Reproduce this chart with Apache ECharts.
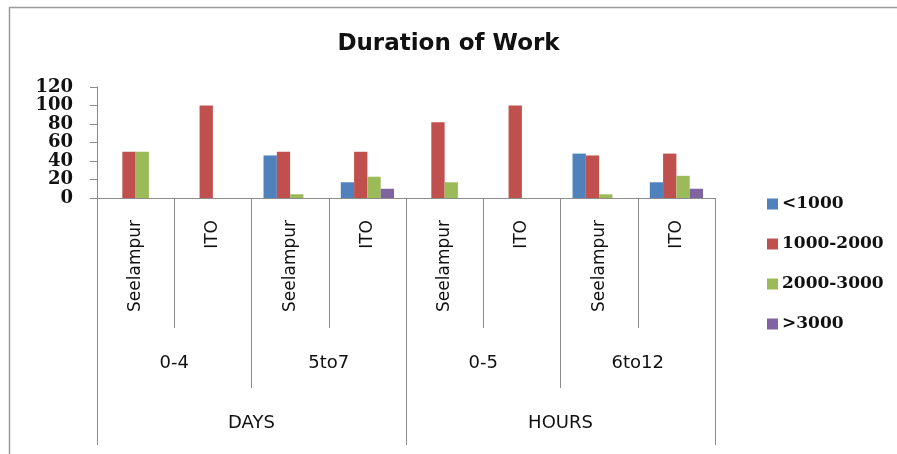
<!DOCTYPE html>
<html>
<head>
<meta charset="utf-8">
<script src="https://cdn.jsdelivr.net/npm/echarts@6/dist/echarts.min.js"></script>
<style>
  html, body { margin: 0; padding: 0; background: #fff; }
  #chart { width: 897px; height: 454px; }
</style>
</head>
<body>
<div id="chart"></div>
<script>
// x axis, three levels
const sites = ['Seelampur', 'ITO', 'Seelampur', 'ITO', 'Seelampur', 'ITO', 'Seelampur', 'ITO'];
const ranges = ['0-4', '5to7', '0-5', '6to12'];
const units = ['DAYS', 'HOURS'];

// series values (one per site column)
const below1000 = [0, 0, 46, 17, 0, 0, 48, 17];
const from1000to2000 = [50, 100, 50, 50, 82, 100, 46, 48];
const from2000to3000 = [50, 0, 4, 23, 17, 0, 4, 24];
const above3000 = [0, 0, 0, 10, 0, 0, 0, 10];

const seriesNames = ['<1000', '1000-2000', '2000-3000', '>3000'];
const colors = ['#4f81bd', '#c0504d', '#9bbb59', '#8064a2'];

const chart = echarts.init(document.getElementById('chart'));

const lineColor = '#8c8c8c';
const labelFont = 'DejaVu Sans';
const numFont = 'DejaVu Serif';

const makeBar = (name, data, i) => ({
  name: name,
  type: 'bar',
  xAxisIndex: 0,
  data: data,
  barWidth: 13.3,
  barGap: '0%',
  itemStyle: { color: colors[i] }
});

const option = {
  animation: false,
  title: {
    text: 'Duration of Work',
    left: 'center',
    top: 28,
    textStyle: {
      fontFamily: labelFont,
      fontWeight: 'bold',
      fontSize: 23,
      color: '#111'
    }
  },
  legend: {
    orient: 'vertical',
    left: 762,
    top: 189,
    itemWidth: 11,
    itemHeight: 11,
    itemGap: 20,
    icon: 'rect',
    textStyle: {
      fontFamily: numFont,
      fontWeight: 'bold',
      fontSize: 17,
      color: '#111',
      lineHeight: 20,
      padding: [0, 0, 0, -1]
    },
    data: seriesNames
  },
  grid: {
    left: 97,
    right: 182,
    top: 87,
    bottom: 256
  },
  xAxis: [
    {
      type: 'category',
      data: sites,
      position: 'bottom',
      axisLine: { show: true, lineStyle: { color: lineColor, width: 1 } },
      axisTick: { show: true, interval: 0, length: 130, lineStyle: { color: lineColor } },
      axisLabel: {
        interval: 0,
        rotate: 90,
        margin: 22,
        fontFamily: labelFont,
        fontSize: 17,
        color: '#111'
      }
    },
    {
      type: 'category',
      data: ranges,
      position: 'bottom',
      axisLine: { show: false },
      axisTick: { show: true, interval: 0, length: 190, lineStyle: { color: lineColor } },
      axisLabel: {
        interval: 0,
        margin: 156,
        fontFamily: labelFont,
        fontSize: 18,
        color: '#111'
      }
    },
    {
      type: 'category',
      data: units,
      position: 'bottom',
      axisLine: { show: false },
      axisTick: { show: true, interval: 0, length: 247, lineStyle: { color: lineColor } },
      axisLabel: {
        interval: 0,
        margin: 216,
        fontFamily: labelFont,
        fontSize: 18,
        color: '#111'
      }
    }
  ],
  yAxis: {
    type: 'value',
    min: 0,
    max: 120,
    interval: 20,
    axisLine: { show: true, lineStyle: { color: lineColor } },
    axisTick: { show: true, length: 7, lineStyle: { color: lineColor } },
    splitLine: { show: false },
    axisLabel: {
      margin: 24,
      fontFamily: numFont,
      fontWeight: 'bold',
      fontSize: 18,
      color: '#111'
    }
  },
  graphic: [
    {
      type: 'polyline',
      shape: { points: [[9.5, 454], [9.5, 7.5], [897, 7.5]] },
      style: { stroke: '#9a9a9a', lineWidth: 1.5, fill: null }
    }
  ],
  series: [
    makeBar(seriesNames[0], below1000, 0),
    makeBar(seriesNames[1], from1000to2000, 1),
    makeBar(seriesNames[2], from2000to3000, 2),
    makeBar(seriesNames[3], above3000, 3)
  ]
};

chart.setOption(option);
</script>
</body>
</html>
